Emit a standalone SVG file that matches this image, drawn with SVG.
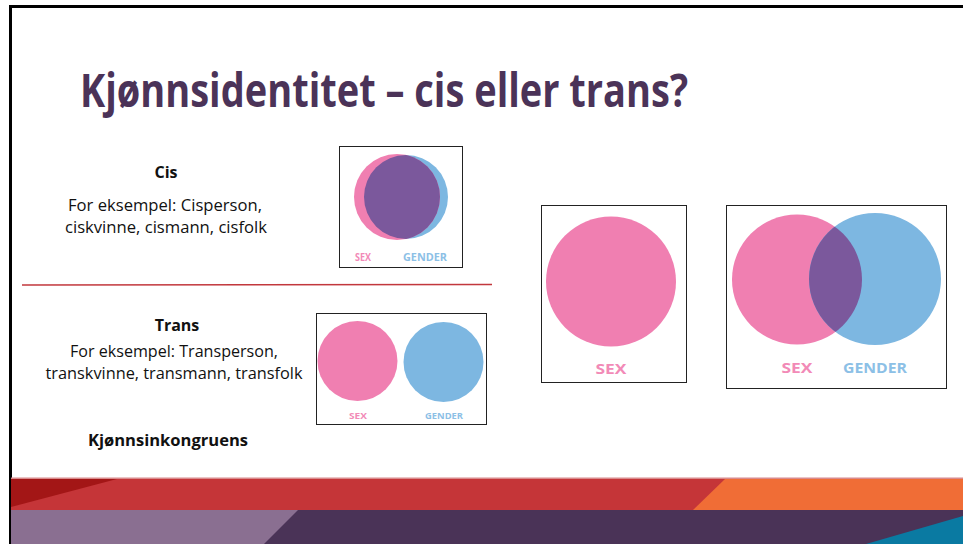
<svg xmlns="http://www.w3.org/2000/svg" width="963" height="544" viewBox="0 0 963 544">
<style>
.title{font-family:"Open Sans","Liberation Sans",sans-serif;font-weight:700;font-size:47px;fill:#4b3358}
.body{font-family:"Open Sans","Liberation Sans",sans-serif;font-size:16px;fill:#111}
.bold{font-family:"Open Sans","Liberation Sans",sans-serif;font-size:16px;font-weight:700;fill:#111}
.frame{fill:#fff;stroke:#222;stroke-width:1}
.pink{fill:#f07fb1}
.blue{fill:#7db7e1}
.ov{fill:#7b589c}
.lbl{font-family:"Open Sans","Liberation Sans",sans-serif;font-weight:700}
.lp{fill:#f28ab7}
.lb{fill:#8cc0e6}
</style>
<defs>
<clipPath id="cisBlue"><circle cx="406" cy="197" r="42"/></clipPath>
<clipPath id="vennBlue"><circle cx="875" cy="279" r="66"/></clipPath>
</defs>
<rect width="963" height="544" fill="#fff"/>
<!-- slide border -->
<path d="M10.5 544 V6.5 H963" fill="none" stroke="#000" stroke-width="3"/>
<!-- bottom band -->
<g id="band">
<rect x="11" y="478" width="952" height="32" fill="#c53538"/>
<rect x="11" y="477.5" width="952" height="1.5" fill="#d98a8c"/>
<polygon points="11,479 117,479 11,507" fill="#a31616"/>
<polygon points="725,479 963,479 963,510 693,510" fill="#f06d36"/>
<rect x="11" y="510" width="952" height="34" fill="#4a3357"/>
<polygon points="11,510 298,510 264,544 11,544" fill="#8a6f91"/>
<polygon points="866,544 963,516 963,544" fill="#0a7aa2"/>
</g>
<text class="title" x="80" y="107" textLength="608" lengthAdjust="spacingAndGlyphs">Kjønnsidentitet – cis eller trans?</text>
<g id="cis-text">
<text class="bold" x="166" y="178" text-anchor="middle">Cis</text>
<text class="body" x="165" y="211" text-anchor="middle" textLength="194" lengthAdjust="spacingAndGlyphs">For eksempel: Cisperson,</text>
<text class="body" x="166" y="233" text-anchor="middle" textLength="202" lengthAdjust="spacingAndGlyphs">ciskvinne, cismann, cisfolk</text>
</g>
<line id="divider" x1="22" y1="285" x2="492" y2="284.5" stroke="#c2383d" stroke-width="1.5"/>
<g id="trans-text">
<text class="bold" x="177" y="331" text-anchor="middle">Trans</text>
<text class="body" x="174" y="357" text-anchor="middle" textLength="208" lengthAdjust="spacingAndGlyphs">For eksempel: Transperson,</text>
<text class="body" x="174" y="379" text-anchor="middle" textLength="257" lengthAdjust="spacingAndGlyphs">transkvinne, transmann, transfolk</text>
<text class="bold" x="168" y="446" text-anchor="middle" textLength="160" lengthAdjust="spacingAndGlyphs">Kjønnsinkongruens</text>
</g>
<g id="cis-venn">
<rect class="frame" x="339.5" y="146.5" width="123" height="121"/>
<circle class="blue" cx="406" cy="197" r="42"/>
<circle class="pink" cx="397" cy="197" r="43"/>
<circle class="ov" cx="397" cy="197" r="43" clip-path="url(#cisBlue)"/>
<text class="lbl lp" x="355" y="261" font-size="10" textLength="16" lengthAdjust="spacingAndGlyphs">SEX</text>
<text class="lbl lb" x="403" y="261" font-size="10" textLength="44" lengthAdjust="spacingAndGlyphs">GENDER</text>
</g>
<g id="trans-venn">
<rect class="frame" x="316.5" y="313.5" width="170" height="111"/>
<circle class="pink" cx="357.5" cy="361" r="40"/>
<circle class="blue" cx="443.5" cy="362" r="40"/>
<text class="lbl lp" x="358" y="419" font-size="9" text-anchor="middle" textLength="18" lengthAdjust="spacingAndGlyphs">SEX</text>
<text class="lbl lb" x="444" y="419" font-size="9" text-anchor="middle" textLength="38" lengthAdjust="spacingAndGlyphs">GENDER</text>
</g>
<g id="sex-only">
<rect class="frame" x="541.5" y="205.5" width="145" height="177"/>
<circle class="pink" cx="611" cy="281.5" r="65"/>
<text class="lbl lp" x="611" y="374" font-size="15" text-anchor="middle" textLength="31" lengthAdjust="spacingAndGlyphs">SEX</text>
</g>
<g id="sex-gender">
<rect class="frame" x="726.5" y="205.5" width="220" height="183"/>
<circle class="pink" cx="797" cy="279.5" r="65"/>
<circle class="blue" cx="875" cy="279" r="66"/>
<circle class="ov" cx="797" cy="279.5" r="65" clip-path="url(#vennBlue)"/>
<text class="lbl lp" x="797" y="373" font-size="15" text-anchor="middle" textLength="31" lengthAdjust="spacingAndGlyphs">SEX</text>
<text class="lbl lb" x="875" y="373" font-size="15" text-anchor="middle" textLength="64" lengthAdjust="spacingAndGlyphs">GENDER</text>
</g>
</svg>
